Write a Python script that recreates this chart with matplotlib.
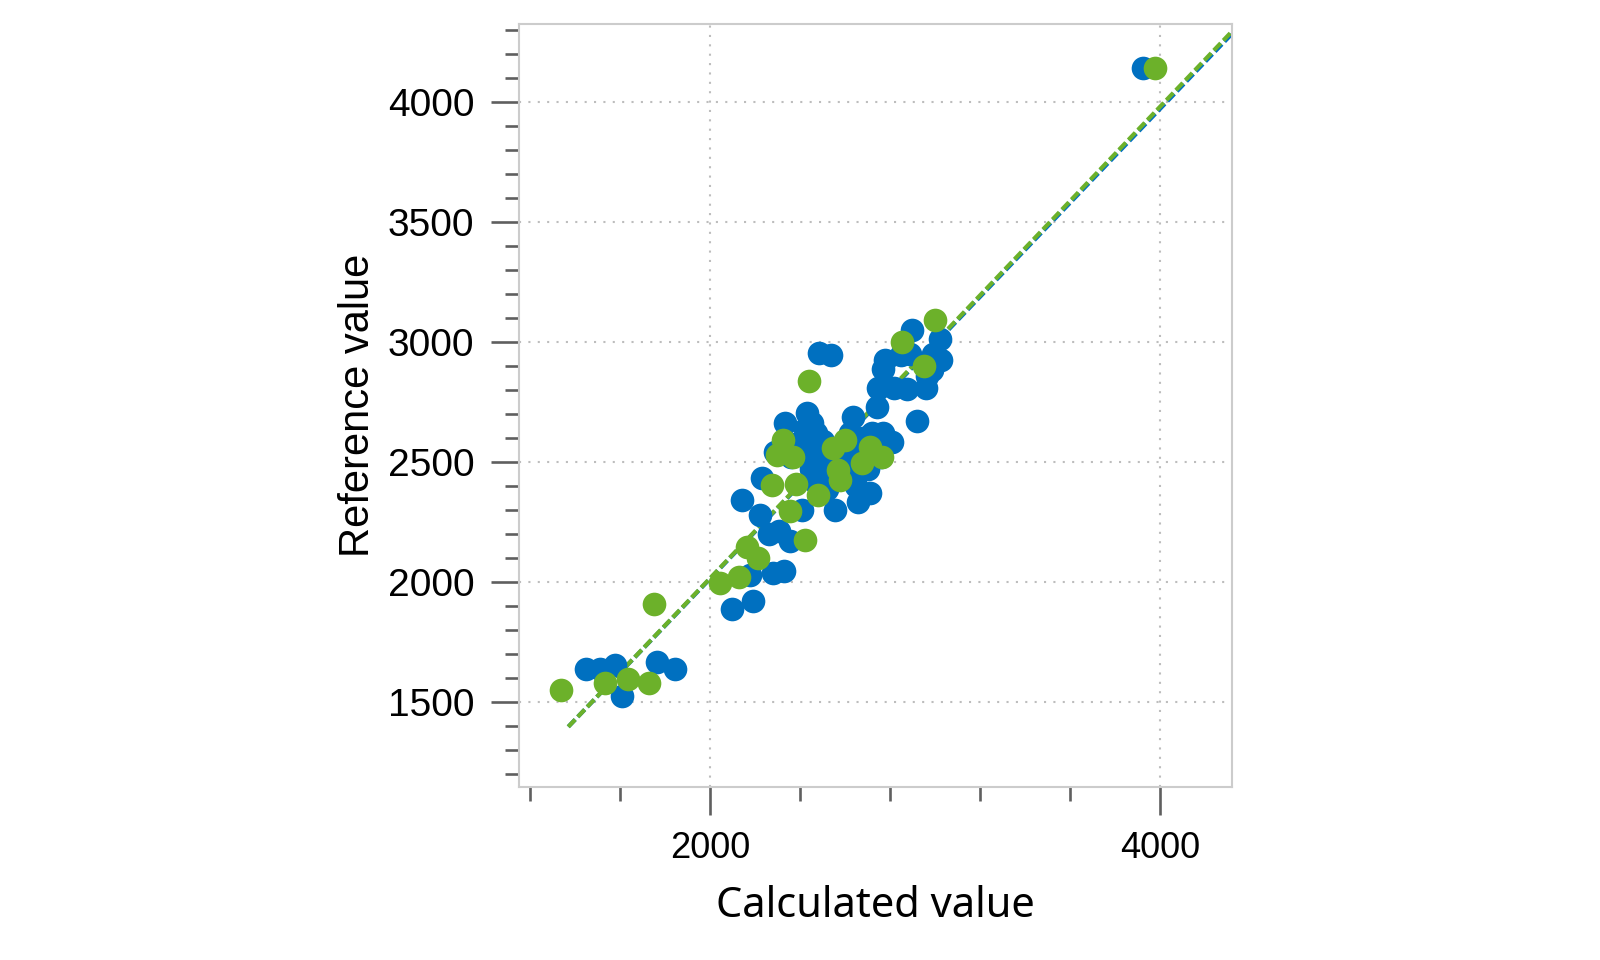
#!/usr/bin/env python3
"""Calculated vs reference scatter plot with two fit lines."""

import matplotlib

matplotlib.use("Agg")
import matplotlib.pyplot as plt

# --- data ---
blue_x = [
    3923, 1451, 1512, 1580, 1608, 1765, 1843, 2098, 2190, 2176,
    2282, 2330, 2262, 2305, 2355, 2222, 2141, 2408, 2556, 2655,
    2710, 2230, 2288, 2333, 2431, 2452, 2485, 2537, 2636, 2720,
    2768, 2808, 2921, 2742, 2748, 2815, 2875, 2960, 2775, 2770,
    2850, 2888, 2990, 3026, 2985, 2965, 2898, 3020, 2420, 2440,
    2470, 2500, 2520, 2430, 2460, 2480, 2510, 2450, 2460, 2520,
    2540, 2560, 2600, 2630, 2620, 2640, 2680, 2760, 2700, 2360,
    2390, 2620, 2680, 2700, 2650,
]
blue_y = [
    4141, 1637, 1638, 1657, 1528, 1667, 1638, 1888, 1922, 2030,
    2038, 2046, 2200, 2212, 2170, 2279, 2341, 2302, 2302, 2336,
    2370, 2433, 2544, 2662, 2706, 2665, 2955, 2948, 2690, 2620,
    2621, 2584, 2671, 2730, 2808, 2808, 2806, 2808, 2925, 2890,
    2946, 2952, 2950, 2926, 2885, 2860, 3051, 3012, 2640, 2600,
    2620, 2590, 2560, 2520, 2540, 2500, 2470, 2470, 2420, 2390,
    2440, 2520, 2560, 2560, 2440, 2500, 2520, 2520, 2580, 2520,
    2580, 2620, 2600, 2470, 2400,
]

green_x = [
    3977, 1339, 1532, 1636, 1731, 1752, 2044, 2130, 2163, 2215,
    2274, 2380, 2355, 2422, 2481, 2326, 2296, 2370, 2548, 2599,
    2710, 2762, 2673, 2570, 2577, 2440, 2999, 2851, 2950,
]
green_y = [
    4141, 1550, 1581, 1599, 1581, 1908, 1998, 2020, 2149, 2100,
    2405, 2410, 2297, 2177, 2362, 2593, 2530, 2523, 2558, 2593,
    2565, 2523, 2496, 2468, 2426, 2840, 3093, 3003, 2901,
]

# fitted lines (end points)
fit_x = [1371, 4316]
fit_blue_y = [1398, 4284]
fit_green_y = [1398, 4294]

x_major = [2000, 4000]
x_minor = [1200, 1600, 2400, 2800, 3200, 3600]
y_major = [1500, 2000, 2500, 3000, 3500, 4000]
y_minor = [1200, 1300, 1400, 1600, 1700, 1800, 1900, 2100, 2200, 2300,
           2400, 2600, 2700, 2800, 2900, 3100, 3200, 3300, 3400, 3600,
           3700, 3800, 3900, 4100, 4200, 4300]

BLUE = "#0070c0"
GREEN = "#6cb12a"
TICK = "#5f5f5f"
FRAME = "#cccccc"


def main() -> None:
    fig = plt.figure(figsize=(16, 9.6), dpi=100)
    ax = fig.add_axes([0.3242, 0.1802, 0.4456, 0.7953])

    # 回帰線（点の下）
    ax.plot(fit_x, fit_blue_y, color=BLUE, lw=3, dashes=(2.4, 0.9), zorder=2)
    ax.plot(fit_x, fit_green_y, color=GREEN, lw=3, dashes=(2.4, 0.9), zorder=2)

    # 散布点
    ax.scatter(blue_x, blue_y, s=290, color=BLUE, linewidths=0, zorder=3)
    ax.scatter(green_x, green_y, s=290, color=GREEN, linewidths=0, zorder=4)

    ax.set_xlim(1151, 4316)
    ax.set_ylim(1147, 4328)

    ax.set_xticks(x_major)
    ax.set_xticks(x_minor, minor=True)
    ax.set_yticks(y_major)
    ax.set_yticks(y_minor, minor=True)

    ax.grid(True, which="major", color="#bdbdbd", lw=1.5,
            linestyle=(0, (1, 3.5)), zorder=0)
    ax.set_axisbelow(True)

    for spine in ax.spines.values():
        spine.set_color(FRAME)
        spine.set_linewidth(1.5)

    ax.tick_params(which="major", direction="out", length=20, width=1.9,
                   color=TICK, pad=12)
    ax.tick_params(which="minor", direction="out", length=10, width=1.9,
                   color=TICK)
    ax.tick_params(axis="x", which="major", labelsize=26)
    ax.tick_params(axis="y", which="major", labelsize=28)
    for lab in ax.get_xticklabels() + ax.get_yticklabels():
        lab.set_family("Liberation Sans")

    ax.set_xlabel("Calculated value", fontsize=30, family="Noto Sans")
    ax.set_ylabel("Reference value", fontsize=30, family="Liberation Sans")
    ax.xaxis.set_label_coords(0.5, -0.128)
    ax.yaxis.set_label_coords(-0.197, 0.5)

    fig.savefig("out.png", dpi=100)
    plt.close(fig)


if __name__ == "__main__":
    main()
